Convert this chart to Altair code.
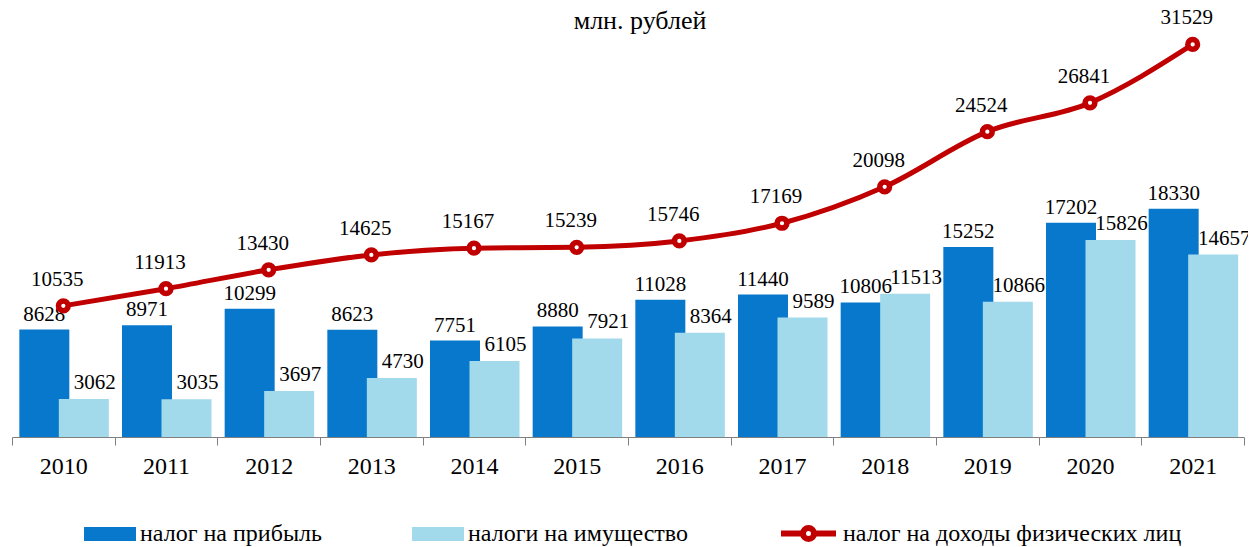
import altair as alt
import pandas as pd

years = [str(y) for y in range(2010, 2022)]
profit_tax = [8628, 8971, 10299, 8623, 7751, 8880, 11028, 11440, 10806, 15252, 17202, 18330]
property_tax = [3062, 3035, 3697, 4730, 6105, 7921, 8364, 9589, 11513, 10866, 15826, 14657]
income_tax = [10535, 11913, 13430, 14625, 15167, 15239, 15746, 17169, 20098, 24524, 26841, 31529]

S1 = "налог на прибыль"
S2 = "налоги на имущество"
S3 = "налог на доходы физических лиц"
SUBTITLE = "млн. рублей"

DARK = "#0878CC"
LIGHT = "#A2D9EB"
RED = "#C00000"
FONT = "Liberation Serif"

df = pd.DataFrame({"year": years, "profit": profit_tax,
                   "property": property_tax, "income": income_tax})
df["s1"] = S1
df["s2"] = S2
df["s3"] = S3

x = alt.X("year:N", sort=years,
          scale=alt.Scale(paddingInner=0, paddingOuter=0),
          axis=alt.Axis(title=None, labelAngle=0, tickBand="extent", tickSize=8,
                        domainColor="#808080", tickColor="#808080",
                        labelFont=FONT, labelFontSize=24, labelColor="black",
                        labelPadding=9))
yscale = alt.Scale(domain=[0, 31888], nice=False, zero=True)

color_scale = alt.Scale(domain=[S1, S2], range=[DARK, LIGHT])
legend_bars = alt.Legend(title=None, orient="none", legendX=72, legendY=468,
                         direction="horizontal",
                         symbolType="M-1,-0.27H1V0.27H-1Z", symbolSize=2704,
                         symbolStrokeWidth=0, symbolOpacity=1,
                         labelFont=FONT, labelFontSize=24, labelColor="black",
                         labelLimit=0, columnPadding=90, labelOffset=4, padding=0)

base = alt.Chart(df)

bars1 = base.mark_bar(size=50, xOffset=-19).encode(
    x=x, y=alt.Y("profit:Q", scale=yscale, axis=None),
    color=alt.Color("s1:N", scale=color_scale, legend=legend_bars))
bars2 = base.mark_bar(size=50, xOffset=20.5).encode(
    x=x, y=alt.Y("property:Q", scale=yscale, axis=None),
    color=alt.Color("s2:N", scale=color_scale, legend=legend_bars))

lab1 = base.mark_text(font=FONT, fontSize=21, color="black", xOffset=-19,
                      baseline="alphabetic", dy=-9).encode(
    x=x, y=alt.Y("profit:Q", scale=yscale, axis=None), text="profit:Q")
lab2 = base.mark_text(font=FONT, fontSize=21, color="black", xOffset=20.5,
                      baseline="alphabetic", dy=-10, dx=11).encode(
    x=x, y=alt.Y("property:Q", scale=yscale, axis=None), text="property:Q")

line = base.mark_line(strokeWidth=5, interpolate="monotone").encode(
    x=x, y=alt.Y("income:Q", scale=yscale, axis=None),
    stroke=alt.Stroke("s3:N", scale=alt.Scale(domain=[S3], range=[RED]),
                      legend=alt.Legend(title=None, orient="none", legendX=766, legendY=463,
                                        symbolType="M-1,0H-0.2A0.2,0.2 0 1,1 0.2,0A0.2,0.2 0 1,1 -0.2,0M0.2,0H1",
                                        symbolSize=3025, symbolStrokeWidth=6,
                                        symbolFillColor="white", symbolOpacity=1,
                                        labelFont=FONT, labelFontSize=24, labelColor="black",
                                        labelLimit=0, labelOffset=4, padding=0)))
points = base.mark_point(shape="circle", filled=True, fill="white", stroke=RED,
                         strokeWidth=5.5, size=95, opacity=1).encode(
    x=x, y=alt.Y("income:Q", scale=yscale, axis=None))
lab3 = base.mark_text(font=FONT, fontSize=21, color="black",
                      baseline="alphabetic", dy=-20, dx=-6).encode(
    x=x, y=alt.Y("income:Q", scale=yscale, axis=None), text="income:Q")

subtitle = alt.Chart(pd.DataFrame({"t": [SUBTITLE]})).mark_text(
    font=FONT, fontSize=26, color="black", baseline="alphabetic", align="center"
).encode(text="t:N", x=alt.value(628), y=alt.value(-11))

chart = alt.layer(bars1, bars2, lab1, lab2, line, points, lab3, subtitle).properties(
    width=1232, height=397,
    padding={"left": 4, "top": 32, "right": 4, "bottom": 110},
    autosize="none",
).configure_view(stroke=None)

chart.save("out.html", embed_options={"renderer": "svg", "actions": False})
